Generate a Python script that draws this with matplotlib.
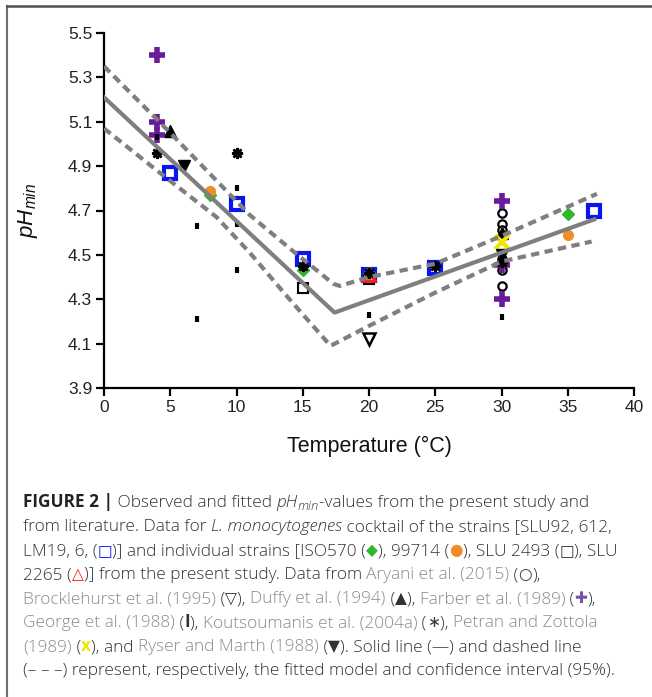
import matplotlib
matplotlib.use('Agg')
from matplotlib import pyplot as plt
from matplotlib.lines import Line2D

plt.rcParams['mathtext.fontset'] = 'custom'
plt.rcParams['mathtext.rm'] = 'Liberation Sans'
plt.rcParams['mathtext.it'] = 'Liberation Sans:italic'

W, H = 652, 697

# fitted model and 95% confidence band
fit_t = [0, 17.4, 37]
fit_ph = [5.21, 4.24, 4.66]
upper_t = [0, 5, 11, 14, 17.3, 17.8, 20, 25, 30, 37.2]
upper_ph = [5.35, 5.05, 4.68, 4.53, 4.37, 4.36, 4.40, 4.46, 4.585, 4.775]
lower_t = [0, 4, 8.5, 11, 14, 17.1, 20, 25, 30, 36.8]
lower_ph = [5.07, 4.88, 4.67, 4.51, 4.30, 4.09, 4.18, 4.33, 4.47, 4.56]

# present study
cocktail_t = [5, 10, 15, 20, 25, 37]
cocktail_ph = [4.87, 4.73, 4.48, 4.41, 4.44, 4.70]
iso570_t = [8, 15, 20, 35]
iso570_ph = [4.77, 4.43, 4.42, 4.685]
s99714_t = [8, 20, 35]
s99714_ph = [4.79, 4.40, 4.59]
slu2493_t = [15, 20]
slu2493_ph = [4.35, 4.39]
slu2265_t = [20]
slu2265_ph = [4.41]

# literature
aryani_t = [30, 30, 30, 30, 30, 30]
aryani_ph = [4.69, 4.64, 4.61, 4.48, 4.43, 4.36]
brock_t = [20]
brock_ph = [4.12]
duffy_t = [5, 30]
duffy_ph = [5.06, 4.60]
farber_t = [4, 4, 4, 30, 30, 30]
farber_ph = [5.40, 5.10, 5.04, 4.745, 4.455, 4.30]
george_t = [4, 7, 7, 10, 10, 10, 20, 30]
george_ph = [5.03, 4.63, 4.21, 4.80, 4.64, 4.43, 4.23, 4.22]
kouts_t = [4, 10, 15, 20, 25, 30]
kouts_ph = [4.96, 4.96, 4.45, 4.42, 4.45, 4.47]
petran_t = [30]
petran_ph = [4.56]
ryser_t = [6, 30]
ryser_ph = [4.90, 4.50]

xticks = [0, 5, 10, 15, 20, 25, 30, 35, 40]
yticks = [3.9, 4.1, 4.3, 4.5, 4.7, 4.9, 5.1, 5.3, 5.5]

BLUE = '#0a14f0'
GREEN = '#2db82d'
ORANGE = '#f28c28'
RED = '#ff1a1a'
PURPLE = '#6a1b9a'
YELLOW = '#f2e600'
LINE = '#7f7f7f'

fig = plt.figure(figsize=(W / 100, H / 100), dpi=100)
ax = fig.add_axes([104 / W, 1 - 388 / H, 530 / W, 355 / H])

ax.plot(cocktail_t, cocktail_ph, 's', ms=9, mfc='none', mec=BLUE, mew=3, zorder=3)
ax.plot(slu2493_t, slu2493_ph, 's', ms=7.5, mfc='none', mec='black', mew=1.5, zorder=3)
ax.plot(iso570_t, iso570_ph, 'D', ms=6.5, color=GREEN, zorder=3)
ax.plot(s99714_t, s99714_ph, 'o', ms=7, color=ORANGE, zorder=3)
ax.plot(slu2265_t, slu2265_ph, '^', ms=9, mfc='none', mec=RED, mew=2, zorder=3)
ax.plot(aryani_t, aryani_ph, 'o', ms=6, mfc='white', mec='black', mew=1.6, zorder=3)
ax.plot(brock_t, brock_ph, 'v', ms=8, mfc='none', mec='black', mew=1.8, zorder=3)
ax.plot(duffy_t, duffy_ph, '^', ms=8, color='black', zorder=3)
ax.plot(farber_t, farber_ph, '+', ms=12, mec=PURPLE, mew=4, zorder=3)
ax.plot(george_t, george_ph, '|', ms=5, mec='black', mew=3, zorder=3)
ax.plot(kouts_t, kouts_ph, marker=(8, 2, 0), ls='none', ms=8, mec='black', mew=1.8, zorder=3)
ax.plot(petran_t, petran_ph, 'x', ms=10, mec=YELLOW, mew=3, zorder=3)
ax.plot(ryser_t, ryser_ph, 'v', ms=8, color='black', zorder=3)

ax.plot(fit_t, fit_ph, color=LINE, lw=3, zorder=4)
ax.plot(upper_t, upper_ph, color=LINE, lw=3, dashes=(2, 1.3), zorder=4)
ax.plot(lower_t, lower_ph, color=LINE, lw=3, dashes=(2, 1.3), zorder=4)

ax.set_xlim(0, 40)
ax.set_ylim(3.9, 5.5)
ax.set_xticks(xticks)
ax.set_yticks(yticks)
ax.set_yticklabels(['%.1f' % v for v in yticks])
for s in ['top', 'right']:
    ax.spines[s].set_visible(False)
for s in ['left', 'bottom']:
    ax.spines[s].set_linewidth(1.6)
ax.tick_params(direction='out', length=5.5, width=1.6, labelsize=12.5, pad=3,
               labelcolor='#222222')
for lab in ax.get_xticklabels() + ax.get_yticklabels():
    lab.set_family('Liberation Sans')
ax.set_xlabel('Temperature (°C)', family='Liberation Sans', size=15.5, color='#111111')
ax.xaxis.set_label_coords(0.5, -0.135)
ax.set_ylabel(r'$pH_{min}$', size=16, color='#111111')
ax.yaxis.set_label_coords(-0.12, 0.5)

# frame of the figure panel
fig.add_artist(Line2D([7 / W, 7 / W], [0, 1 - 6 / H], color='#707070', lw=1.5))
fig.add_artist(Line2D([7 / W, 1], [1 - 6 / H, 1 - 6 / H], color='#505050', lw=1.8))

# caption
FS = 12.4
TXT = '#333333'
GRAY = '#8a8a8a'
FAM = ['Open Sans', 'DejaVu Sans']
SYM = ['DejaVu Sans']
renderer = fig.canvas.get_renderer()


def width_of(s, props):
    t1 = fig.text(0, 0, '|' + s + '|', **props)
    t2 = fig.text(0, 0, '||', **props)
    w = t1.get_window_extent(renderer).width - t2.get_window_extent(renderer).width
    t1.remove()
    t2.remove()
    return w


def caption_line(segs, x, y):
    for seg in segs:
        s = seg[0]
        opt = dict(seg[1]) if len(seg) > 1 else {}
        props = dict(family=FAM, size=FS, color=TXT, weight='light')
        dy = opt.pop('dy', 0)
        props.update(opt)
        fig.text(x / W, 1 - (y - dy) / H, s, ha='left', va='baseline', **props)
        x += width_of(s, props)


def sym(ch, color=TXT):
    return (ch, dict(family=SYM, color=color, size=FS * 0.9, weight='normal'))


lines = [
    [('FIGURE 2 |', dict(weight='bold', color='#222222')), (' Observed and fitted ',),
     ('pH', dict(style='italic')), ('min', dict(style='italic', size=FS * 0.75, dy=-3)),
     ('-values from the present study and',)],
    [('from literature. Data for ',), ('L. monocytogenes', dict(style='italic')),
     (' cocktail of the strains [SLU92, 612,',)],
    [('LM19, 6, (',), sym('□', BLUE), (')] and individual strains [ISO570 (',),
     sym('◆', GREEN), ('), 99714 (',), sym('●', ORANGE),
     ('), SLU 2493 (',), sym('□'), ('), SLU',)],
    [('2265 (',), sym('△', RED), (')] from the present study. Data from ',),
     ('Aryani et al. (2015)', dict(color=GRAY)), (' (',), sym('○'), ('),',)],
    [('Brocklehurst et al. (1995)', dict(color=GRAY)), (' (',), sym('▽'), ('), ',),
     ('Duffy et al. (1994)', dict(color=GRAY)), (' (',), sym('▲'), ('), ',),
     ('Farber et al. (1989)', dict(color=GRAY)), (' (',), sym('✚', '#7b52ab'),
     ('),',)],
    [('George et al. (1988)', dict(color=GRAY)), (' (',), ('I', dict(weight='bold')),
     ('), ',), ('Koutsoumanis et al. (2004a)', dict(color=GRAY)), (' (',), sym('∗'),
     ('), ',), ('Petran and Zottola', dict(color=GRAY))],
    [('(1989)', dict(color=GRAY)), (' (',), ('x', dict(color=YELLOW, weight='bold')),
     ('), and ',), ('Ryser and Marth (1988)', dict(color=GRAY)),
     (' (',), sym('▼'), ('). Solid line (—) and dashed line',)],
    [('(– – –) represent, respectively, the fitted model and confidence interval (95%).',)],
]

for i, segs in enumerate(lines):
    caption_line(segs, 23, 507 + i * 24)

fig.savefig('out.png', dpi=100)
